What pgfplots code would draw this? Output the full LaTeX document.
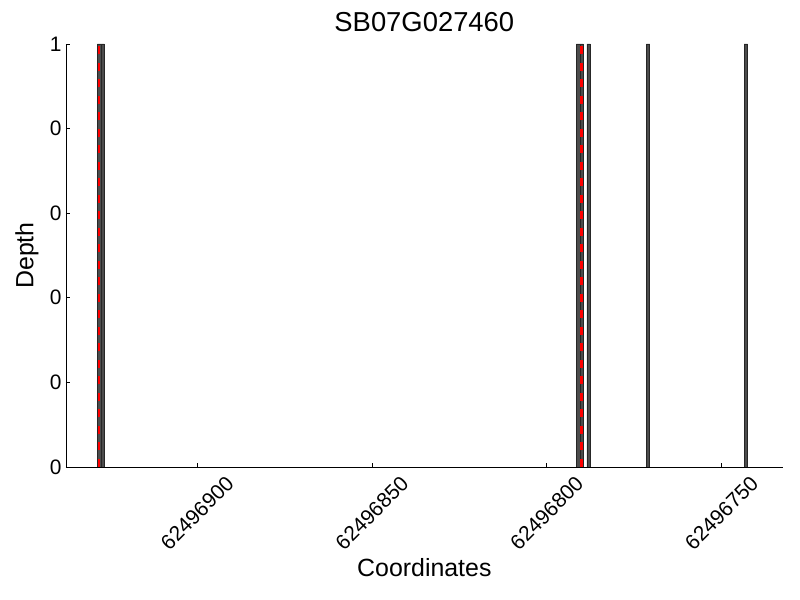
\documentclass[border=0pt]{standalone}
\usepackage{fontspec}
\setmainfont{Liberation Sans}
\usepackage{pgfplots}
\pgfplotsset{compat=1.18}
\begin{document}
\begin{tikzpicture}
\path[use as bounding box] (0,0) rectangle (800bp,600bp);
\begin{axis}[
  at={(66bp,133bp)}, anchor=south west,
  scale only axis, width=716.7bp, height=423bp,
  x dir=reverse, xmin=32.5, xmax=237.5, ymin=0, ymax=1,
  axis x line*=bottom, axis y line*=left,
  axis line style={-, line width=0.8bp},
  xtick={50,100,150,200},
  xticklabels={62496750,62496800,62496850,62496900},
  ytick={0,0.2,0.4,0.6,0.8,1},
  yticklabels={0,0,0,0,0,1},
  tick align=inside, major tick length=4bp,
  tick style={black, line width=0.6bp},
  ticklabel style={font=\fontsize{21}{25}\selectfont},
  xticklabel style={yshift=-46bp, rotate=45, anchor=center},
  yticklabel style={xshift=-1bp},
  title={SB07G027460},
  title style={font=\fontsize{27.5}{32}\selectfont, at={(axis description cs:0.5,1.016)}, anchor=base},
  xlabel={Coordinates},
  xlabel style={font=\fontsize{25}{30}\selectfont, at={(axis description cs:0.5,-0.258)}, anchor=base},
  ylabel={Depth},
  ylabel style={font=\fontsize{25}{30}\selectfont, at={(axis description cs:-0.0544,0.5)}, anchor=center},
]
\addplot[ybar, bar width=1, bar shift=0, fill=black!70, draw=black!85, line width=0.7bp]
  coordinates {(228,1) (227,1) (91,1) (90,1) (88,1) (71,1) (43,1)};
\addplot[red, line width=2.4bp, dash pattern=on 8bp off 8.5bp] coordinates {(228,0) (228,1)};
\addplot[red, line width=2.4bp, dash pattern=on 8bp off 8.5bp] coordinates {(90,0) (90,1)};
\end{axis}
\end{tikzpicture}
\end{document}
